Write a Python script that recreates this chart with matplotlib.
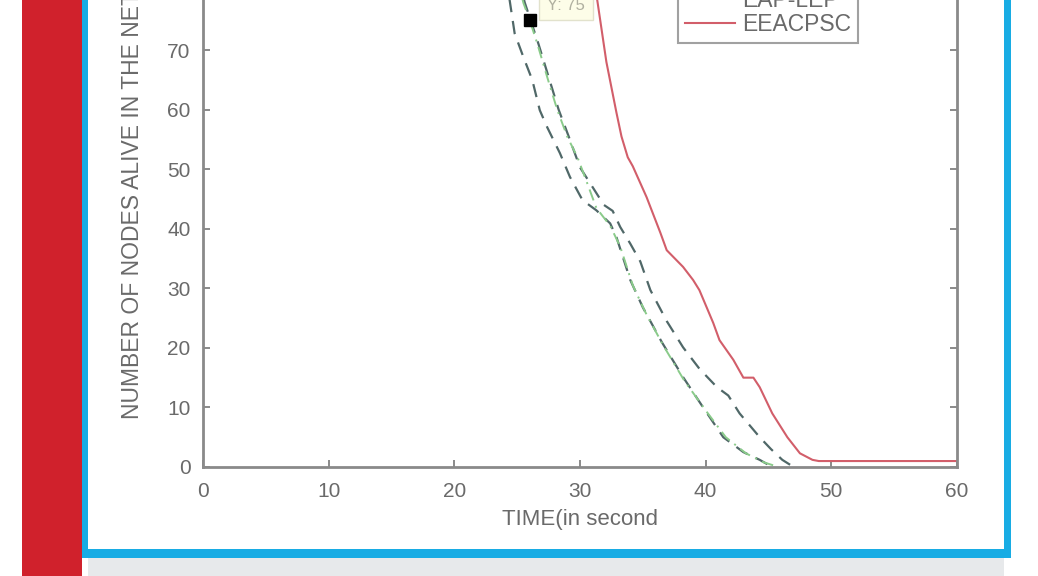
import matplotlib
matplotlib.use("Agg")
import matplotlib.pyplot as plt
from matplotlib.patches import Rectangle

plt.rcParams["font.family"] = ["Liberation Sans", "DejaVu Sans"]

# Time (s) / nodes alive
t_eeacpsc = [0, 29.6, 30.5, 31.4, 32.1, 32.9, 33.3, 33.8, 34.2, 35.3, 36.4, 36.9,
             38.2, 39.0, 39.5, 40.6, 41.1, 42.2, 43.0, 43.8, 44.3, 45.3, 46.5,
             47.5, 48.5, 49.0, 60]
n_eeacpsc = [100, 100, 90, 78, 68, 59.5, 55.5, 52, 50.5, 45.3, 39.3, 36.4,
             33.6, 31.4, 29.7, 24.2, 21.3, 18, 15, 15, 13.4, 9, 5,
             2.3, 1.2, 1, 1]

t_leach = [0, 21.5, 23, 24.4, 24.8, 25.5, 26.2, 26.8, 27.4, 28.4, 29.2, 30.2,
           31.3, 32.4, 32.9, 34.0, 35.0, 36.5, 38.2, 39.8, 41.4, 43.0, 44.3, 45.3]
n_leach = [100, 100, 90, 78.4, 72.8, 68.8, 65, 59.9, 57, 52.7, 48.7, 44.8,
           43.1, 40.9, 38.6, 31.4, 26.8, 21, 15.1, 10, 5, 2.5, 1.2, 0]

t_pegasis = [0, 22.5, 24, 25.5, 26.0, 26.6, 27.4, 28.2, 29.0, 29.8, 30.6, 31.3,
             32.4, 33.2, 34.2, 35.2, 36.6, 38.3, 40.0, 41.6, 43.2, 44.6, 45.8]
n_pegasis = [100, 100, 90, 77.9, 75, 71.1, 65.4, 59.9, 55.4, 52, 47.5, 43.5,
             40.5, 37, 30.5, 26, 20.5, 14.5, 9.5, 5, 2.3, 0.8, 0]

t_eaplep = [0, 22.7, 24.2, 25.6, 26.7, 27.5, 28.3, 29.1, 30.0, 31.0, 31.9, 32.6,
            33.2, 34.0, 34.8, 35.6, 36.9, 38.2, 39.5, 40.9, 41.8, 42.7, 43.5,
            44.3, 45.2, 46.1, 47.0]
n_eaplep = [100, 100, 90, 78, 71, 65.5, 60, 55.5, 50.3, 47, 44, 43,
            40.3, 37.5, 34.5, 29.7, 24.5, 20.1, 16.5, 13.4, 12, 9, 7,
            5, 3, 1.2, 0]

# data tip
tip_x, tip_y = 26, 75

W, H = 1038, 576
fig = plt.figure(figsize=(W / 100, H / 100), dpi=100)
fig.patch.set_facecolor("white")


def _rect(x0, y0, w, h, color):
    # pixel box (top-left origin) -> figure coords
    fig.add_artist(Rectangle((x0 / W, 1 - (y0 + h) / H), w / W, h / H,
                             transform=fig.transFigure, color=color, lw=0,
                             zorder=0))


# page frame around the figure
_rect(22, 0, 60, H, "#d0212c")
_rect(82, 0, 6, 558, "#18ace4")
_rect(1004, 0, 7, 558, "#18ace4")
_rect(82, 549, 929, 9, "#18ace4")
_rect(88, 558, 916, 18, "#e7e9eb")

ax = fig.add_axes([203 / W, (H - 467) / H, 754 / W, 595.6 / H])

DARK = "#506868"
ax.plot(t_leach, n_leach, color=DARK, lw=1.6, dashes=(6, 4), label="LEACH")
ax.plot(t_eaplep, n_eaplep, color=DARK, lw=1.6, dashes=(6, 4), label="PEGASIS")
ax.plot(t_pegasis, n_pegasis, color="#8acb8a", lw=1.4,
        dashes=(6, 3, 1, 3), label="EAP-LEP")
ax.plot(t_eeacpsc, n_eeacpsc, color="#d25e6a", lw=1.5, label="EEACPSC")

ax.plot([tip_x], [tip_y], "s", color="black", ms=8, zorder=5)
ax.text(27.35, 76.3, f"X: {tip_x}\nY: {tip_y}", fontsize=12, color="#b0b0a0",
        va="bottom", ha="left",
        bbox=dict(boxstyle="square,pad=0.45", fc="#fdfde8", ec="#e2e2cc", lw=1))

ax.set_xlim(0, 60)
ax.set_ylim(0, 100)
ax.set_xticks(range(0, 61, 10))
ax.set_yticks(range(0, 101, 10))

for s in ax.spines.values():
    s.set_color("#8a8a8a")
    s.set_linewidth(2)
ax.tick_params(direction="in", length=5, width=1.2, color="#777777",
               labelsize=15, labelcolor="#6a6a6a", top=True, right=True)
ax.tick_params(axis="x", pad=11)
ax.tick_params(axis="y", pad=9)

ax.set_xlabel("TIME(in second", fontsize=16, color="#6a6a6a")
ax.xaxis.set_label_coords(0.5, (467 - 519) / 595.6)
ax.xaxis.label.set_verticalalignment("center")
ax.set_ylabel("NUMBER OF NODES ALIVE IN THE NETWORK", fontsize=16.5,
              color="#6a6a6a")
ax.yaxis.set_label_coords((133 - 203) / 754, 0.5)
ax.yaxis.label.set_verticalalignment("center")

leg = ax.legend(loc="lower right", bbox_to_anchor=(858 / W, (H - 43) / H),
                bbox_transform=fig.transFigure, fontsize=16.5, frameon=True,
                fancybox=False, borderaxespad=0, handlelength=2.2,
                handletextpad=0.3, labelspacing=0.05, borderpad=0.3)
leg.get_frame().set_edgecolor("#8a8a8a")
leg.get_frame().set_linewidth(1.5)
for txt in leg.get_texts():
    txt.set_color("#6a6a6a")

fig.savefig("out.png", dpi=100)
